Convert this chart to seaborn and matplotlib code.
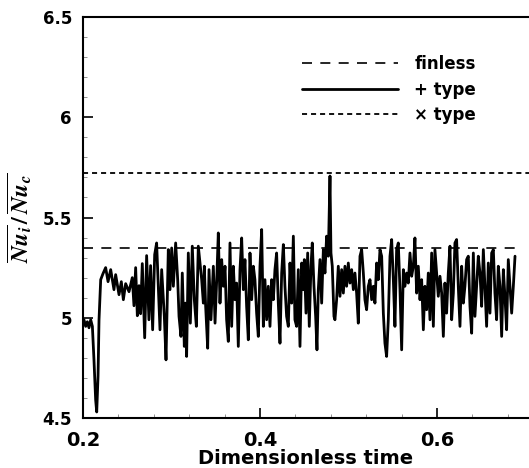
import numpy as np
import pandas as pd
import matplotlib
matplotlib.use("Agg")
import matplotlib.pyplot as plt
import seaborn as sns
from matplotlib.ticker import MultipleLocator

sns.set_style("ticks", {'axes.edgecolor': 'black', 'text.color': 'black',
                        'xtick.color': 'black', 'ytick.color': 'black',
                        'axes.labelcolor': 'black'})
plt.rcParams['font.family'] = ['DejaVu Sans']
plt.rcParams['font.weight'] = 'bold'
plt.rcParams['mathtext.fontset'] = 'stix'

# + type (time series)
plus_time = [
    0.2011, 0.2030, 0.2049, 0.2068, 0.2087, 0.2106, 0.2124, 0.2143, 0.2155, 0.2170,
    0.2181, 0.2200, 0.2226, 0.2256, 0.2283, 0.2313, 0.2350, 0.2369, 0.2407, 0.2433,
    0.2456, 0.2482, 0.2520, 0.2557, 0.2576, 0.2595, 0.2614, 0.2633, 0.2651, 0.2670,
    0.2697, 0.2719, 0.2745, 0.2764, 0.2787, 0.2810,
    0.2832, 0.2870, 0.2889, 0.2919, 0.2938, 0.2964, 0.2983, 0.3002, 0.3021, 0.3047,
    0.3070, 0.3085, 0.3107, 0.3122, 0.3145, 0.3156, 0.3171, 0.3190, 0.3213, 0.3235,
    0.3258, 0.3281, 0.3303, 0.3322, 0.3341, 0.3360, 0.3371, 0.3386, 0.3409, 0.3424,
    0.3446, 0.3473, 0.3492, 0.3514, 0.3529, 0.3548, 0.3567, 0.3586, 0.3605, 0.3623,
    0.3642,
    0.3661, 0.3680, 0.3699, 0.3717, 0.3736, 0.3755, 0.3774, 0.3793, 0.3812, 0.3830,
    0.3849, 0.3868, 0.3887, 0.3906, 0.3925, 0.3943, 0.3962, 0.3981, 0.4000, 0.4019,
    0.4038, 0.4056, 0.4075, 0.4094, 0.4113, 0.4132, 0.4151, 0.4169, 0.4188, 0.4207,
    0.4226, 0.4245, 0.4264, 0.4282, 0.4301, 0.4320, 0.4339, 0.4358, 0.4377, 0.4395,
    0.4414, 0.4433, 0.4452, 0.4471, 0.4490, 0.4501, 0.4520, 0.4539, 0.4557, 0.4576,
    0.4591, 0.4610, 0.4629, 0.4644, 0.4659, 0.4678, 0.4697, 0.4716, 0.4734, 0.4753,
    0.4772, 0.4791, 0.4802, 0.4817, 0.4836, 0.4847, 0.4866, 0.4885, 0.4904, 0.4923,
    0.4942, 0.4960, 0.4979, 0.4998, 0.5017, 0.5036, 0.5055, 0.5073, 0.5092, 0.5111,
    0.5130, 0.5149, 0.5168, 0.5186, 0.5205,
    0.5224, 0.5243, 0.5262, 0.5281, 0.5299, 0.5318, 0.5337, 0.5356, 0.5375, 0.5394,
    0.5412, 0.5431, 0.5450, 0.5469, 0.5488, 0.5507, 0.5525, 0.5544, 0.5563, 0.5582,
    0.5601, 0.5620, 0.5638, 0.5657, 0.5676, 0.5695, 0.5714, 0.5733, 0.5751, 0.5770,
    0.5789, 0.5808, 0.5827, 0.5846, 0.5864, 0.5883, 0.5902, 0.5921, 0.5940, 0.5959,
    0.5977,
    0.5996, 0.6015, 0.6034, 0.6053, 0.6072, 0.6090, 0.6109, 0.6128, 0.6147, 0.6166,
    0.6185, 0.6203, 0.6222, 0.6241, 0.6260, 0.6279, 0.6298, 0.6316, 0.6335, 0.6354,
    0.6373, 0.6392, 0.6411, 0.6429, 0.6448, 0.6467, 0.6486, 0.6505, 0.6524, 0.6542,
    0.6561, 0.6580, 0.6599, 0.6618, 0.6637, 0.6655, 0.6674, 0.6693, 0.6712, 0.6731,
    0.6750, 0.6768, 0.6787, 0.6806, 0.6825, 0.6844, 0.6863, 0.6882,
]
plus_nu = [
    4.990, 4.957, 4.980, 4.950, 4.990, 4.957, 4.790, 4.590, 4.530, 4.710,
    4.990, 5.190, 5.220, 5.250, 5.180, 5.240, 5.140, 5.215, 5.115, 5.180,
    5.090, 5.170, 5.130, 5.200, 5.060, 5.250, 5.010, 5.160, 5.020, 5.270,
    4.900, 5.310, 4.990, 5.260, 4.940, 5.315,
    5.373, 4.940, 5.240, 5.007, 4.790, 5.340, 5.140, 5.348, 5.157, 5.373,
    5.190, 5.007, 4.907, 5.223, 4.857, 5.073, 4.807, 5.323, 4.973, 5.357,
    5.090, 4.957, 5.357, 5.273, 5.190, 5.073, 5.257, 5.057, 4.848, 5.240,
    4.990, 5.257, 4.973, 5.223, 5.423, 5.073, 5.290, 5.157, 5.257, 4.990,
    4.882,
    5.373, 4.957, 5.257, 5.090, 5.173, 4.857, 5.240, 5.398, 5.140, 5.290,
    5.057, 4.890, 5.323, 5.090, 5.257, 5.190, 5.023, 4.907, 5.257, 5.440,
    4.957, 5.190, 4.990, 5.157, 4.957, 5.190, 5.090, 5.240, 5.323, 5.073,
    4.873, 5.223, 5.365, 5.157, 5.007, 4.957, 5.273, 5.073, 5.407, 4.990,
    4.957, 5.240, 4.857, 5.273, 5.140, 5.290, 5.023, 5.323, 4.957, 5.257,
    5.373, 5.157, 5.007, 4.840, 5.140, 5.290, 5.073, 5.340, 5.223, 5.407,
    5.307, 5.707, 5.323, 5.257, 5.007, 4.990, 5.090, 5.257, 5.107, 5.240,
    5.123, 5.257, 5.157, 5.273, 5.173, 5.240, 5.140, 5.223, 5.123, 4.973,
    5.307, 5.340, 5.223, 5.090, 5.040,
    5.157, 5.190, 5.090, 5.157, 5.073, 5.273, 5.190, 5.340, 5.307, 5.023,
    4.873, 4.807, 4.990, 5.307, 5.390, 5.190, 4.957, 5.340, 5.373, 5.140,
    4.840, 5.240, 5.157, 5.223, 5.173, 5.323, 5.207, 5.257, 5.398, 5.123,
    5.257, 5.090, 5.190, 4.940, 5.157, 5.040, 5.223, 4.990, 5.323, 4.957,
    5.340,
    5.223, 5.107, 5.207, 5.123, 4.907, 5.173, 5.023, 5.223, 5.357, 4.990,
    5.123, 5.373, 5.390, 5.157, 4.957, 5.257, 5.073, 5.157, 5.290, 5.307,
    5.057, 4.923, 5.323, 5.007, 5.157, 5.307, 5.223, 5.057, 5.340, 5.157,
    4.957, 5.273, 5.023, 5.323, 5.340, 5.123, 4.990, 5.257, 5.157, 4.907,
    5.240, 5.107, 4.940, 5.290, 5.157, 5.023, 5.157, 5.307,
]

# finless and x type: time-averaged levels
finless_time = [0.2, 0.69]
finless_nu = [5.35, 5.35]
cross_time = [0.2, 0.704]
cross_nu = [5.72, 5.72]

df_plus = pd.DataFrame({'time': plus_time, 'nu': plus_nu})
df_fin = pd.DataFrame({'time': finless_time, 'nu': finless_nu})
df_cross = pd.DataFrame({'time': cross_time, 'nu': cross_nu})

fig = plt.figure(figsize=(5.29, 4.68), dpi=100)
ax = fig.add_axes([83 / 529, 50 / 468, 446 / 529, 401 / 468])

sns.lineplot(data=df_fin, x='time', y='nu', ax=ax, color='black', lw=1.2,
             label='finless').lines[-1].set_dashes([6, 5])
sns.lineplot(data=df_plus, x='time', y='nu', ax=ax, color='black', lw=2.0,
             estimator=None, sort=False, label='+ type')
sns.lineplot(data=df_cross, x='time', y='nu', ax=ax, color='black', lw=1.3,
             label='\u00d7 type').lines[-1].set_dashes([2.8, 2.2])

ax.set_xlim(0.2, 0.704)
ax.set_ylim(4.5, 6.5)
ax.xaxis.set_major_locator(MultipleLocator(0.2))
ax.xaxis.set_minor_locator(MultipleLocator(0.04))
ax.yaxis.set_minor_locator(MultipleLocator(0.1))
ax.set_yticks([4.5, 5, 5.5, 6, 6.5])
ax.set_yticklabels(['4.5', '5', '5.5', '6', '6.5'])

ax.tick_params(axis='both', which='major', direction='in', length=7, width=1.2)
ax.tick_params(axis='both', which='minor', direction='in', length=3, width=0.6,
               color='0.5')
ax.tick_params(axis='x', labelsize=14, pad=9)
ax.tick_params(axis='y', labelsize=12, pad=8)
for lab in ax.get_xticklabels() + ax.get_yticklabels():
    lab.set_fontweight('bold')

for side in ['left', 'bottom', 'top']:
    ax.spines[side].set_linewidth(1.5)
ax.spines['right'].set_visible(False)

ax.set_xlabel('Dimensionless time', fontsize=14, fontweight='bold', labelpad=0)
ax.set_ylabel(r'$\overline{\mathbfit{Nu}_{i}}\,/\,\overline{\mathbfit{Nu}_{c}}$',
              fontsize=17, labelpad=6)

leg = ax.legend(loc='upper left', bbox_to_anchor=(0.491, 0.905), frameon=False,
                fontsize=12, handlelength=5.75, handletextpad=1.0,
                labelspacing=0.45, borderpad=0, borderaxespad=0)
for t in leg.get_texts():
    t.set_fontweight('bold')

fig.savefig('out.png', dpi=100)
